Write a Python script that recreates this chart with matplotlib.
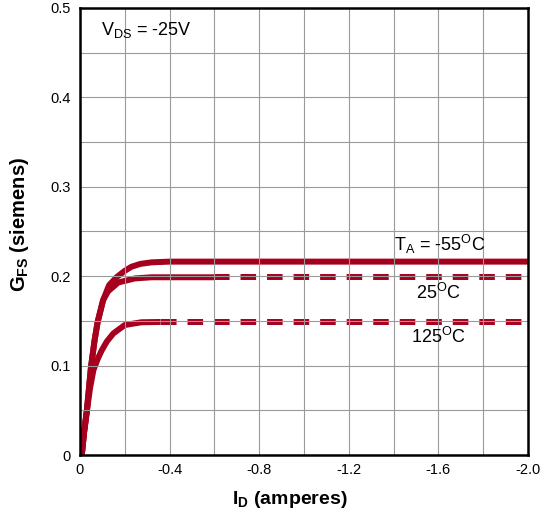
import matplotlib
matplotlib.use("Agg")
import matplotlib.pyplot as plt
import numpy as np

plt.rcParams['font.family'] = ['Liberation Sans', 'DejaVu Sans']
plt.rcParams['mathtext.fontset'] = 'custom'
plt.rcParams['mathtext.rm'] = 'Liberation Sans'
plt.rcParams['mathtext.bf'] = 'Liberation Sans:bold'
plt.rcParams['lines.scale_dashes'] = False

# curve data (I_D in amperes, G_FS in siemens)
id_m55 = [-0.008, -0.018, -0.030, -0.049, -0.065, -0.079, -0.103, -0.13, -0.164,
          -0.2, -0.23, -0.27, -0.32, -0.4, -2.0]
gfs_m55 = [0, 0.025, 0.048, 0.098, 0.128, 0.149, 0.173, 0.19, 0.199,
           0.206, 0.2106, 0.2138, 0.2155, 0.2163, 0.2163]

id_25 = [-0.008, -0.018, -0.030, -0.049, -0.065, -0.079, -0.103, -0.125, -0.171,
         -0.245, -0.32, -0.6]
gfs_25 = [0, 0.025, 0.048, 0.098, 0.128, 0.149, 0.173, 0.183, 0.193,
          0.1975, 0.1988, 0.1988]
id_25_dash = [-0.6, -2.0]
gfs_25_dash = [0.1988, 0.1988]

id_125 = [-0.008, -0.018, -0.030, -0.045, -0.06, -0.08, -0.097, -0.12, -0.149,
          -0.2, -0.275, -0.36]
gfs_125 = [0, 0.025, 0.048, 0.075, 0.095, 0.108, 0.117, 0.127, 0.136,
           0.1454, 0.1485, 0.1488]
id_125_dash = [-0.36, -2.0]
gfs_125_dash = [0.1488, 0.1488]

x_ticks = [0, -0.4, -0.8, -1.2, -1.6, -2.0]
x_labels = ['0', '-0.4', '-0.8', '-1.2', '-1.6', '-2.0']
y_ticks = [0, 0.1, 0.2, 0.3, 0.4, 0.5]
y_labels = ['0', '0.1', '0.2', '0.3', '0.4', '0.5']

red = '#A6001E'
lw = 4.3

fig = plt.figure(figsize=(5.43, 5.18), dpi=100)
ax = fig.add_axes([0.1473, 0.1216, 0.8251, 0.863])

ax.plot(id_m55, gfs_m55, color=red, lw=lw, solid_capstyle='butt')
ax.plot(id_25, gfs_25, color=red, lw=lw, solid_capstyle='butt')
ax.plot(id_25_dash, gfs_25_dash, color=red, lw=lw, dashes=(11.2, 7.9))
ax.plot(id_125, gfs_125, color=red, lw=lw, solid_capstyle='butt')
ax.plot(id_125_dash, gfs_125_dash, color=red, lw=lw, dashes=(11.2, 7.9))

ax.set_xlim(0, -2.0)
ax.set_ylim(0, 0.5)
ax.set_xticks(x_ticks, x_labels, fontsize=10.5)
ax.set_yticks(y_ticks, y_labels, fontsize=10.5)
ax.set_xticks(np.arange(0, -2.01, -0.2), minor=True)
ax.set_yticks(np.arange(0, 0.501, 0.05), minor=True)
ax.tick_params(which='both', length=0)
ax.tick_params(axis='x', pad=6)
ax.tick_params(axis='y', pad=7)
ax.grid(which='both', color='#9a9a9a', lw=0.8, zorder=5)
ax.set_axisbelow(False)

for s in ax.spines.values():
    s.set_linewidth(1.8)
    s.set_zorder(6)

ax.text(-0.094, 0.475, r"V$_{\rm DS}$ = -25V", fontsize=13, va='center', ha='left')
ax.text(-1.606, 0.236, r"T$_{\rm A}$ = -55$^{\rm O}$C", fontsize=13, va='center', ha='center')
ax.text(-1.6, 0.181, r"25$^{\rm O}$C", fontsize=13, va='center', ha='center')
ax.text(-1.6, 0.132, r"125$^{\rm O}$C", fontsize=13, va='center', ha='center')

ax.set_xlabel(r"I$_{\bf D}$ (amperes)", fontsize=14, fontweight='bold')
ax.set_ylabel(r"G$_{\bf FS}$ (siemens)", fontsize=14.5, fontweight='bold')
ax.xaxis.set_label_coords(0.469, -0.077)
ax.yaxis.set_label_coords(-0.109, 0.515)

fig.savefig("out.png", dpi=100)
